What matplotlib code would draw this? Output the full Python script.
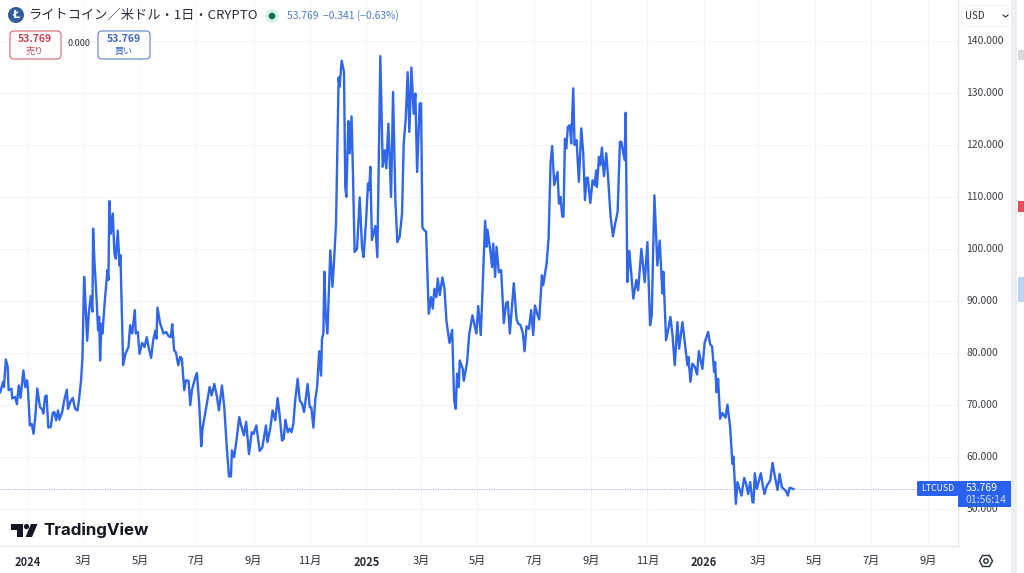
import matplotlib
matplotlib.use("Agg")
import matplotlib.pyplot as plt
import pandas as pd
from matplotlib.patches import FancyBboxPatch, Circle, Rectangle, Polygon
from matplotlib.transforms import ScaledTranslation

plt.rcParams['font.family'] = ['Noto Sans CJK JP', 'DejaVu Sans']

# days counted from 2024-01-01
days = [
    -30, -27, -26, -24, -22, -21, -18, -17, -14, -12, -10, -8, -5, -3, -1, 0, 2, 4, 6, 8,
    10, 13, 15, 16.6, 18.4, 20, 22, 24.6, 26.7, 28.5, 30.4, 32.5, 34, 37, 39, 42, 43.3, 46.2, 48.4, 51,
    53.5, 55, 57.4, 58.9, 60.7, 62, 64, 65.7, 67.9, 69.7, 70.4, 71.9, 73.7, 75.8, 76.9, 78, 79.5, 80.5, 83.4, 86,
    87, 88, 89.6, 91.7, 93.5, 95, 97.1, 99, 100, 102.9, 105.4, 108.7, 110.5, 112.7, 115.5, 116.6, 118.8, 120.6, 123.5, 126,
    128.5, 130.4, 133.2, 135.4, 137.6, 139, 140, 143, 146.6, 149.5, 152, 154.5, 156, 158, 160, 162.5, 164.6, 166.4, 169, 170.8,
    173.7, 175.5, 177.3, 181, 182.7, 185.2, 187.4, 188.8, 191, 193.5, 196.4, 198.6, 201.5, 204.4, 206.5, 209.8, 212.3, 215, 217.4, 219.5,
    220.6, 223, 226, 228.5, 231, 233.6, 236, 239, 242, 244, 247, 250.6, 253.5, 257.4, 259, 262, 264.6, 267.5, 270, 272,
    274.8, 276.6, 278.4, 281, 283, 285, 287, 289, 291.7, 294, 296.4, 298.6, 302.5, 304.7, 306.5, 308.7, 310.9, 312.7, 315, 317,
    318, 319.5, 320.6, 322, 323.9, 327, 329.3, 331, 333.2,
    336, 337, 339.3, 341.8, 343.2, 344.3, 346.5, 348, 350, 351.5, 353.3, 355.9, 358.8, 361.3, 363, 365.6, 367.8, 369.2, 370.3, 372,
    375.7, 377.9, 381.1, 383.7, 385.8, 387.6, 389.8, 392.7, 394.9, 397.4, 399.5, 402, 404.6, 406.4, 408.6, 410.7, 412.5, 414.7, 417.2, 419,
    420.9, 423.7, 425.2, 426.6, 428, 430.6, 433.5, 436, 437.8, 439.6, 441.8, 443.2, 445.4, 448.3, 450.5, 452.6, 455.9, 458.8, 461, 462.7,
    464.2, 466, 467, 470.3, 471.4, 475, 477.2, 480.8, 485, 487, 489.8, 491.6, 494.5, 496, 497, 500.3, 502, 503.2, 505.3, 506.8,
    509.3, 511.8, 514.7, 517.2, 519, 521.2, 525.5, 528.4, 530.2, 532.8, 535.3, 537.1, 539.3, 541.8, 544.3, 546.5, 548.3, 550.8, 553, 555.9,
    557.3, 561, 563.1, 565.3, 567, 569.2, 572.8, 574.3, 576, 577.9, 579.3, 580.8, 582.2, 584, 586.2, 587.6, 589.8, 591.2, 593.4, 595.9,
    598.5, 600.6, 602.5, 604.2, 605.6, 608.2, 610.7, 612.9, 614.7, 615.4, 617.6, 619, 620.8, 623, 625.5, 627.3, 630.2, 632.8, 635, 637.8,
    640.3, 641.8, 645.4, 646.5, 648.3, 650.5, 654.8, 658, 660, 663.5, 667.1, 670, 672.9, 674.7, 677.6, 680.8, 683.3, 686.2, 687.3, 690.2,
    693.1, 694.9, 697, 699.6, 702.5, 704.3, 707.9, 713.3, 714.4, 716.6, 718.7, 721.3, 723.8, 725.6, 729.5, 732, 735.7, 737.9, 740, 742.2,
    743.3, 744.7, 746.5, 748.7, 751.2, 754.5, 756.6, 759.5, 762, 763.1, 765.7, 767.4, 771.8, 774.7, 776.8, 779, 781.2, 783.7, 784.8, 786.2,
    788.4, 792.7, 795.2, 796.7, 799.2, 802.8, 805.4, 808.2, 810.8, 813, 815.5, 819.8, 822, 823.8, 828,
]
prices = [
    72.4, 74.4, 73.4, 78.7, 77.3, 72.8, 73.1, 71.2, 71.5, 70.1, 73.7, 71.3, 76.6, 73.4, 74.7, 72.8, 66.0, 66.3, 64.4, 67.9,
    73.1, 69.5, 69.2, 68.3, 71.5, 71.8, 65.6, 65.7, 68.4, 68.6, 67.0, 68.9, 67.1, 68.6, 70.7, 72.9, 69.2, 70.7, 71.3, 69.2,
    68.9, 70.7, 74.7, 79.2, 94.6, 90.1, 82.3, 87.5, 90.9, 87.9, 103.9, 97.5, 92.0, 84.3, 86.9, 78.5, 85.6, 83.7, 90.7, 95.9,
    94.0, 109.2, 102.9, 106.8, 99.1, 98.1, 103.5, 96.8, 98.8, 77.6, 79.8, 81.1, 85.3, 83.7, 88.2, 83.7, 84.0, 79.8, 81.9, 81.1,
    83.0, 81.1, 79.0, 82.4, 84.2, 82.7, 88.7, 85.6, 83.7, 84.0, 83.2, 83.0, 85.5, 80.5, 80.1, 77.6, 79.2, 78.9, 72.8, 74.7,
    74.6, 69.9, 72.8, 75.3, 76.1, 70.2, 62.0, 65.4, 67.6, 70.2, 73.4, 71.8, 74.0, 71.5, 68.9, 73.7, 69.5, 61.8, 56.2, 56.2,
    61.2, 59.9, 63.8, 67.6, 65.7, 64.1, 66.7, 60.5, 64.7, 64.4, 66.0, 61.1, 61.8, 66.0, 62.8, 65.4, 68.9, 67.0, 71.3, 68.3,
    63.1, 63.4, 67.1, 64.7, 65.4, 64.7, 66.3, 70.8, 75.0, 70.8, 70.2, 68.6, 74.0, 69.5, 69.5, 65.6, 71.2, 73.4, 80.3, 75.6,
    82.7, 83.7, 95.6, 87.5, 83.7, 99.7, 92.7, 97.5, 104.9,
    133.0, 131.2, 136.2, 134.1, 111.9, 110.0, 124.6, 118.4, 125.5, 114.5, 99.4, 100.0, 109.9, 100.4, 98.4, 105.2, 112.6, 111.3, 115.8, 101.7,
    104.4, 98.4, 137.1, 115.8, 119.0, 115.5, 124.1, 110.0, 130.2, 109.4, 101.3, 102.3, 106.8, 120.3, 125.1, 134.0, 122.5, 134.9, 126.0, 129.9,
    114.8, 128.0, 128.0, 104.2, 103.7, 103.3, 87.5, 90.7, 88.5, 92.3, 90.7, 94.3, 91.1, 94.5, 92.3, 86.2, 81.9, 84.4, 70.8, 69.2,
    76.0, 73.4, 78.5, 76.9, 74.6, 78.2, 83.5, 87.2, 83.7, 89.0, 83.4, 91.7, 105.4, 100.4, 103.7, 99.4, 96.5, 101.0, 94.6, 100.4,
    95.5, 95.9, 85.7, 89.6, 89.8, 83.7, 93.4, 86.6, 85.6, 85.3, 83.7, 80.3, 85.1, 84.6, 88.2, 83.4, 89.1, 87.5, 86.4, 94.9,
    93.0, 97.2, 102.0, 116.7, 119.8, 112.3, 114.8, 108.7, 110.0, 106.2, 106.2, 121.2, 119.3, 123.5, 123.8, 120.3, 130.9, 120.0, 120.9, 112.9,
    123.2, 118.4, 109.4, 113.7, 113.7, 108.8, 113.2, 112.3, 115.1, 111.9, 117.7, 116.1, 119.5, 114.0, 118.4, 114.2, 106.2, 102.4, 104.7, 107.1,
    120.6, 120.6, 117.1, 126.2, 93.6, 99.6, 90.4, 94.0, 92.0, 100.0, 93.6, 101.3, 85.3, 87.2, 110.3, 96.8, 101.6, 91.4, 95.6, 82.4,
    85.0, 86.9, 83.7, 77.6, 85.9, 80.8, 85.9, 77.6, 79.2, 74.4, 77.9, 77.3, 75.8, 80.3, 76.9, 82.0, 84.0, 81.6, 81.2, 76.3,
    78.2, 72.4, 75.0, 67.3, 68.4, 67.5, 70.0, 65.7, 58.6, 60.0, 50.9, 55.1, 52.5, 55.9, 54.8, 52.8, 55.1, 51.2, 51.2, 56.8,
    53.8, 56.8, 54.1, 52.8, 54.4, 55.4, 58.8, 55.9, 53.6, 56.7, 54.1, 53.4, 52.5, 54.0, 53.769,
]

last_price = 53.769
tick_dates = ['2024-01-01', '2024-03-01', '2024-05-01', '2024-07-01', '2024-09-01', '2024-11-01',
              '2025-01-01', '2025-03-01', '2025-05-01', '2025-07-01', '2025-09-01', '2025-11-01',
              '2026-01-01', '2026-03-01', '2026-05-01', '2026-07-01', '2026-09-01']
tick_labels = ['2024', '3月', '5月', '7月', '9月', '11月',
               '2025', '3月', '5月', '7月', '9月', '11月',
               '2026', '3月', '5月', '7月', '9月']
price_ticks = [50, 60, 70, 80, 90, 100, 110, 120, 130, 140]

BLUE = '#2f66ea'
TEXT = '#2a2e39'
GRID = '#f4f5f8'
BORDER = '#e4e6ec'

start = pd.Timestamp('2024-01-01')
dates = start + pd.to_timedelta(days, unit='D')

fig = plt.figure(figsize=(10.24, 5.73), dpi=100)
ax = fig.add_axes([0, 27 / 573, 958 / 1024, 546 / 573])
ax.plot(dates, prices, color=BLUE, lw=1.7, solid_joinstyle='round', zorder=3)
ax.axhline(last_price, color='#8fa3d8', lw=0.7, ls=(0, (1, 1.5)), zorder=2)

ax.set_xlim(start + pd.Timedelta(days=-30.3), start + pd.Timedelta(days=1006))
ax.set_ylim(42.8, 147.9)
ax.set_xticks(pd.to_datetime(tick_dates))
ax.set_xticklabels(tick_labels, fontsize=8, color=TEXT)
for lab, txt in zip(ax.get_xticklabels(), tick_labels):
    if txt.isdigit():
        lab.set_fontweight('bold')
ax.yaxis.tick_right()
ax.set_yticks(price_ticks)
ax.set_yticklabels([f'{p:.3f}' for p in price_ticks], fontsize=7.5, color='#3a3e49')
ax.tick_params(axis='both', length=0)
ax.tick_params(axis='x', pad=7)
ax.tick_params(axis='y', pad=6)
# price labels sit one pixel above their grid lines
for lab in ax.get_yticklabels():
    lab.set_transform(lab.get_transform() + ScaledTranslation(0, 1 / 100, fig.dpi_scale_trans))
ax.grid(True, color=GRID, lw=0.8)
ax.set_axisbelow(True)
for name, spine in ax.spines.items():
    spine.set_visible(name in ('right', 'bottom'))
    spine.set_color(BORDER)
    spine.set_linewidth(0.9)

# overlay in pixels for the TradingView furniture
ov = fig.add_axes([0, 0, 1, 1], zorder=5)
ov.set_xlim(0, 1024)
ov.set_ylim(573, 0)
ov.axis('off')
ov.patch.set_alpha(0)

# right sidebar
ov.add_patch(Rectangle((1011, 0), 6, 573, color='#eceef2', lw=0))
ov.add_patch(Rectangle((1017, 0), 7, 573, color='#ffffff', lw=0))
ov.add_patch(Rectangle((1018, 50), 6, 10, color='#d9d9d9', lw=0))
ov.add_patch(Rectangle((1018, 201), 6, 11, color='#ee4b55', lw=0))
ov.add_patch(Rectangle((1018, 277), 6, 25, color='#bcd4f8', lw=0))

# header
ov.add_patch(Circle((16, 15), 8, color='#345d9d', lw=0))
ov.text(16, 15, 'Ł', color='white', fontsize=8, fontweight='bold', ha='center', va='center')
ov.text(28, 15.5, 'ライトコイン／米ドル・1日・CRYPTO', fontsize=9.5, color=TEXT, va='center')
ov.add_patch(Circle((272, 16), 6.5, color='#d5f0e6', lw=0))
ov.add_patch(Circle((272, 16), 3.2, color='#0c6b58', lw=0))
ov.text(287, 16, '53.769  −0.341 (−0.63%)', fontsize=7.4, color='#4a7cc4', va='center')

# sell and buy buttons
ov.add_patch(FancyBboxPatch((10, 31), 51, 28, boxstyle='round,pad=0,rounding_size=4',
                            fc='white', ec='#d9626c', lw=0.8))
ov.text(35, 39, '53.769', fontsize=7.5, fontweight='bold', color='#c94452', ha='center', va='center')
ov.text(35, 51, '売り', fontsize=6.5, color='#c94452', ha='center', va='center')
ov.text(79, 44, '0.000', fontsize=6.5, color=TEXT, ha='center', va='center')
ov.add_patch(FancyBboxPatch((98, 31), 52, 28, boxstyle='round,pad=0,rounding_size=4',
                            fc='white', ec='#5b80c4', lw=0.8))
ov.text(124, 39, '53.769', fontsize=7.5, fontweight='bold', color='#3d68c4', ha='center', va='center')
ov.text(124, 51, '買い', fontsize=6.5, color='#3d68c4', ha='center', va='center')

# currency selector
ov.add_patch(FancyBboxPatch((962, 6), 46, 20, boxstyle='round,pad=0,rounding_size=3',
                            fc='white', ec='#f0f1f4', lw=0.8))
ov.text(965, 16, 'USD', fontsize=7, color=TEXT, va='center')
ov.plot([1003, 1005.5, 1008], [15, 17, 15], color=TEXT, lw=0.8)

# last price labels
ov.add_patch(FancyBboxPatch((917, 481), 41, 15, boxstyle='round,pad=0,rounding_size=1.5',
                            fc='#2962f0', ec='none'))
ov.text(937.5, 488.5, 'LTCUSD', fontsize=6.3, color='white', ha='center', va='center')
ov.add_patch(Rectangle((958, 481), 53, 26, color='#2962f0', lw=0))
ov.text(966, 488, f'{last_price:.3f}', fontsize=7.6, color='white', va='center')
ov.text(966, 500, '01:56:14', fontsize=7.6, color='#cfdcfb', va='center')

# settings gear
ov.add_patch(Polygon([(979.5, 561), (982.5, 555.5), (989.5, 555.5), (992.5, 561), (989.5, 566.5), (982.5, 566.5)],
                     closed=True, fc='none', ec=TEXT, lw=1.0))
ov.add_patch(Circle((986, 561), 2.2, fc='none', ec=TEXT, lw=1.0))

# logo
ov.add_patch(Polygon([(11, 524), (23, 524), (23, 537), (17, 537), (17, 530), (11, 530)], closed=True, fc='#131722', lw=0))
ov.add_patch(Circle((26.5, 526.6), 2.6, fc='#131722', lw=0))
ov.add_patch(Polygon([(31, 524), (37.5, 524), (32, 537), (25.5, 537)], closed=True, fc='#131722', lw=0))
ov.text(43.5, 530, 'TradingView', family='Inter', fontsize=12.2, fontweight='bold', color='#131722', va='center')

fig.savefig('out.png', dpi=100)
